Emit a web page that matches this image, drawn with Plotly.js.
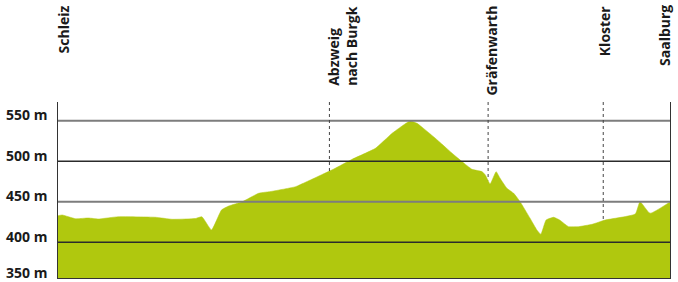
<!DOCTYPE html>
<html>
<head>
<meta charset="utf-8">
<script src="https://cdn.plot.ly/plotly-3.0.1.min.js"></script>
<style>html,body{margin:0;padding:0;background:#fff;}#chart{width:678px;height:282px;}</style>
</head>
<body>
<div id="chart"></div>
<script>
// Elevation profile Schleiz -> Saalburg (distance in km, elevation in m)
const distKm = [0, 0.105, 0.44, 0.76, 1.01, 1.51, 2.44, 2.86, 3.44, 3.60, 3.84, 4.09, 4.27, 4.61, 5.02, 5.36, 5.94, 6.19, 6.90, 7.36, 7.94, 8.36, 8.81, 8.98, 9.44, 9.86, 10.11, 10.36, 10.61, 10.69, 10.81, 10.96, 11.06, 11.23, 11.40, 11.56, 11.81, 11.98, 12.08, 12.21, 12.40, 12.55, 12.77, 13.02, 13.36, 13.69, 14.44, 14.56, 14.81, 15.31];
const elevM = [432.8, 433.7, 429.1, 430.0, 428.8, 431.6, 430.9, 428.4, 429.4, 431.5, 415.2, 439.9, 444.8, 450.1, 460.5, 463.0, 468.6, 474.1, 490.5, 502.5, 516.0, 534.6, 549.8, 546.9, 528.4, 509.9, 499.5, 490.1, 487.2, 483.1, 472.0, 487.2, 479.0, 466.7, 460.5, 450.1, 429.6, 415.2, 409.9, 427.5, 430.9, 427.5, 419.3, 419.3, 422.2, 427.5, 434.9, 450.1, 435.8, 449.8];

const placeNames = ["Schleiz", "Abzweig<br>nach Burgk", "Gräfenwarth", "Kloster", "Saalburg"];
const placeKm = [0, 6.79, 10.76, 13.64, 15.31];
const placeHasMarker = [false, true, true, true, false];

const tickVals = [350, 400, 450, 500, 550];
const tickText = ["350 m", "400 m", "450 m", "500 m", "550 m"];

const yRange = [355.9, 573.2];
const xRange = [0, 15.31];
const green = "#b0c80e";
const txtFont = {family: "Open Sans, Roboto, sans-serif", size: 14, color: "#1a1a1a", weight: 700};

function elevAt(km) {
  for (let i = 0; i < distKm.length - 1; i++) {
    if (km >= distKm[i] && km <= distKm[i + 1]) {
      const t = (km - distKm[i]) / (distKm[i + 1] - distKm[i]);
      return elevM[i] + t * (elevM[i + 1] - elevM[i]);
    }
  }
  return elevM[elevM.length - 1];
}

const trace = {
  x: distKm, y: elevM, type: "scatter", mode: "lines",
  fill: "tozeroy", fillcolor: green, line: {color: green, width: 0.5, shape: "spline", smoothing: 0.4},
  hoverinfo: "skip"
};

const shapes = [];
// grid lines drawn above the profile
tickVals.forEach((v, i) => {
  if (v <= yRange[0]) return;
  const dark = (v % 100 === 0);
  shapes.push({type: "line", layer: "above", xref: "paper", yref: "y", x0: 0, x1: 1, y0: v, y1: v,
    line: {color: dark ? "#2b2b2b" : "#7d7d7d", width: dark ? 1.5 : 2}});
});
// dotted markers from top of plot down to the profile
placeKm.forEach((km, i) => {
  if (!placeHasMarker[i]) return;
  shapes.push({type: "line", layer: "above", xref: "x", yref: "y", x0: km, x1: km, y0: yRange[1], y1: elevAt(km),
    line: {color: "#444", width: 1, dash: "dot"}});
});

const annotations = [];
tickVals.forEach((v, i) => {
  if (v <= yRange[0]) {
    // lowest label sits at the bottom edge of the plot
    annotations.push({xref: "paper", yref: "paper", x: 0, y: 0, xanchor: "right", yanchor: "middle",
      xshift: -9, yshift: 6, text: tickText[i], showarrow: false, font: txtFont});
  } else {
    annotations.push({xref: "paper", yref: "y", x: 0, y: v, xanchor: "right", yanchor: "middle",
      xshift: -9, yshift: 6, text: tickText[i], showarrow: false, font: txtFont});
  }
});
const labelShift = [5, 13, 3, 2, -5];
placeNames.forEach((name, i) => {
  annotations.push({xref: "x", yref: "paper", x: placeKm[i], y: 1.56, xanchor: "center", yanchor: "top",
    xshift: labelShift[i], textangle: -90, align: "left", text: name, showarrow: false, font: txtFont});
});

const layout = {
  width: 678, height: 282,
  margin: {l: 58, r: 8, t: 102, b: 4},
  paper_bgcolor: "#fff", plot_bgcolor: "#fff",
  showlegend: false,
  xaxis: {range: xRange, showgrid: false, zeroline: false, showticklabels: false, ticks: "",
    showline: true, linecolor: "#333", linewidth: 1},
  yaxis: {range: yRange, showgrid: false, zeroline: false, showticklabels: false, ticks: "",
    showline: true, mirror: true, linecolor: "#333", linewidth: 1},
  shapes: shapes,
  annotations: annotations
};

Plotly.newPlot("chart", [trace], layout, {displayModeBar: false, staticPlot: true});
</script>
</body>
</html>
